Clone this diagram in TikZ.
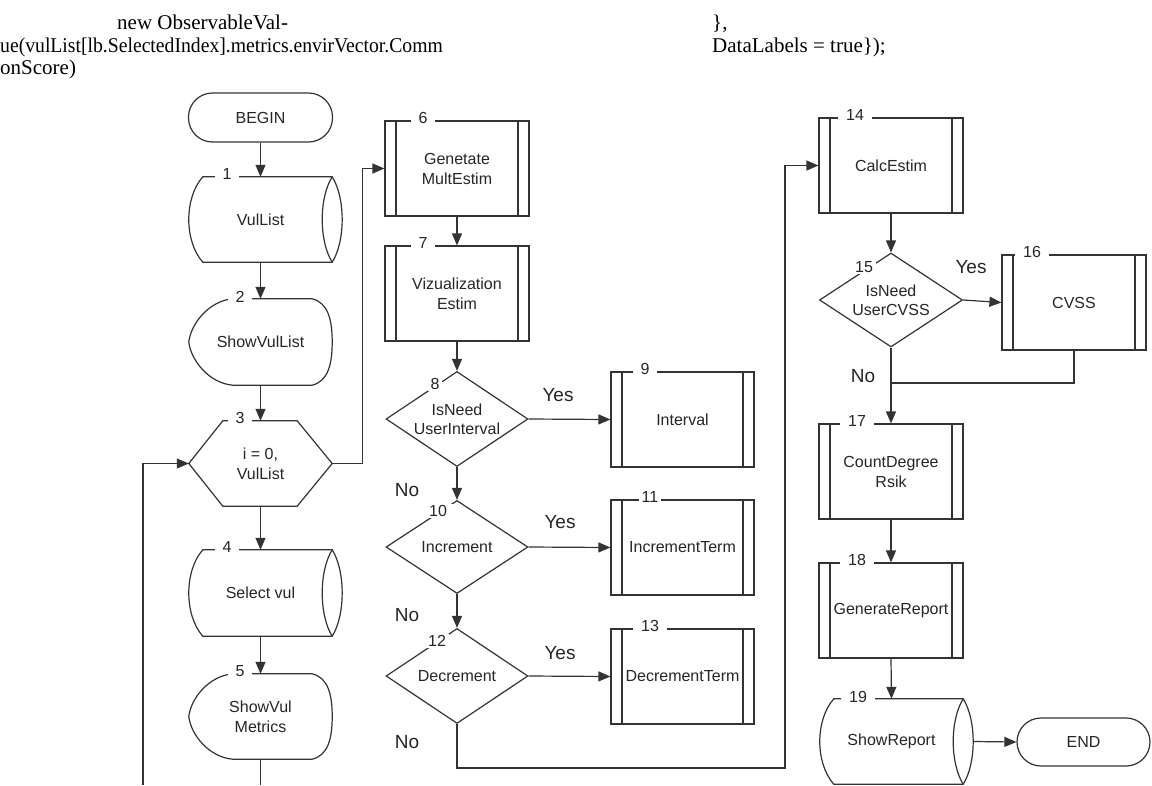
\documentclass[tikz,border=0pt]{standalone}
\usepackage{fontspec}
\setmainfont{Liberation Serif}
\newfontfamily\arialf{Liberation Sans}
\usetikzlibrary{arrows.meta,shapes.geometric,calc}

\newcommand\storedshape[1]{%
  \draw[ln] ($(#1.north west)+(14,0)$) -- (#1.north east)
    .. controls ($(#1.north east)+(13.3,21)$) and ($(#1.south east)+(13.3,-21)$) .. (#1.south east)
    -- ($(#1.south west)+(14,0)$)
    .. controls ($(#1.south west)+(-4.7,-21)$) and ($(#1.north west)+(-4.7,21)$) .. cycle;
  \draw[ln] (#1.north east)
    .. controls ($(#1.north east)+(-13.3,21)$) and ($(#1.south east)+(-13.3,-21)$) .. (#1.south east);}
\newcommand\displayshape[1]{%
  \draw[ln] ($(#1.north west)+(44,0)$) -- ($(#1.north east)+(-20,0)$)
    .. controls ($(#1.north east)+(-4,4)$) and ($(#1.east)+(0,-22)$) .. (#1.east)
    .. controls ($(#1.east)+(0,22)$) and ($(#1.south east)+(-4,-4)$) .. ($(#1.south east)+(-20,0)$)
    -- ($(#1.south west)+(44,0)$)
    .. controls ($(#1.south west)+(20,-2)$) and ($(#1.west)+(2,18)$) .. (#1.west)
    .. controls ($(#1.west)+(2,-18)$) and ($(#1.north west)+(20,2)$) .. cycle;}
\newcommand\hexshape[1]{%
  \draw[ln] ($(#1.north west)+(34,0)$) -- ($(#1.north east)+(-35,0)$) -- (#1.east)
    -- ($(#1.south east)+(-35,0)$) -- ($(#1.south west)+(34,0)$) -- (#1.west) -- cycle;}

\tikzset{
 ln/.style={line width=1.2pt, draw=black!80},
 arr/.style={ln, -{Triangle[length=12pt,width=10pt]}},
 body/.style={draw=none, minimum width=143pt, minimum height=85pt, inner sep=0pt,
   font=\arialf\fontsize{16}{20}\selectfont, align=center, text=black!85},
 proc/.style={body, ln, minimum width=144pt, minimum height=95pt,
   path picture={\draw[ln] ([xshift=11pt]path picture bounding box.north west) -- ([xshift=11pt]path picture bounding box.south west)
     ([xshift=-11pt]path picture bounding box.north east) -- ([xshift=-11pt]path picture bounding box.south east);}},
 term/.style={body, ln, rounded corners=24pt, minimum width=144pt, minimum height=49pt},
 dec/.style={diamond, ln, minimum width=142pt, minimum height=95pt, inner sep=0pt},
 dtext/.style={font=\arialf\fontsize{16}{19}\selectfont, align=center, inner sep=0pt, text=black!85},
 num/.style={fill=white, inner xsep=8pt, inner ysep=1pt, font=\arialf\fontsize{16}{16}\selectfont, text=black!85},
 dnum/.style={num, inner xsep=3pt},
 yn/.style={font=\arialf\fontsize{19}{19}\selectfont, text=black!85, inner sep=0pt},
 toptext/.style={font=\fontsize{21}{24}\selectfont, anchor=base west, inner sep=0pt, text=black},
}

\begin{document}
\begin{tikzpicture}[x=1pt,y=-1pt]
\useasboundingbox[fill=white] (0,0) rectangle (1152,785);

% top text
\node[toptext] (t1) at (117,29) {new ObservableVal-};
\node[toptext] (t2) at (0,52) {\scalebox{0.937}[1]{ue(vulList[lb.SelectedIndex].metrics.envirVector.Comm}};
\node[toptext] (t3) at (0,74) {onScore)};
\node[toptext] (t4) at (712,29) {\},};
\node[toptext] (t5) at (712,52) {DataLabels = true\});};

% column 1
\node[term] (begin) at (260.5,117.5) {BEGIN};
\node[body] (n1) at (260.5,219.5) {VulList};
\node[body,minimum height=86pt] (n2) at (260.5,342) {ShowVulList};
\node[body] (n3) at (260.5,463.5) {i = 0,\\VulList};
\node[body,minimum height=86pt] (n4) at (260.5,593) {Select vul};
\node[body] (n5) at (260.5,716.5) {ShowVul\\Metrics};
\storedshape{n1}
\displayshape{n2}
\hexshape{n3}
\storedshape{n4}
\displayshape{n5}

% column 2
\node[proc] (n6) at (457,168.5) {Genetate\\MultEstim};
\node[proc] (n7) at (457,293.5) {Vizualization\\Estim};
\node[dec] (d8) at (457,419) {};
\node[dtext] (t8) at (d8) {IsNeed\\UserInterval};
\node[proc,minimum width=143pt] (n9) at (682.5,419.5) {Interval};
\node[dec,minimum height=93pt] (d10) at (457,547) {};
\node[dtext] (t10) at (d10) {Increment};
\node[proc,minimum width=143pt] (n11) at (682.5,547.5) {IncrementTerm};
\node[dec] (d12) at (457,676) {};
\node[dtext] (t12) at (d12) {Decrement};
\node[proc,minimum width=143pt] (n13) at (682.5,676.5) {DecrementTerm};

% column 3
\node[proc] (n14) at (891,165.5) {CalcEstim};
\node[dec,minimum width=143pt,minimum height=94pt] (d15) at (891,300) {};
\node[dtext] (t15) at (d15) {IsNeed\\UserCVSS};
\node[proc] (n16) at (1074,302.5) {CVSS};
\node[proc] (n17) at (891,471.5) {CountDegree\\Rsik};
\node[proc] (n18) at (891,610.5) {GenerateReport};
\node[body] (n19) at (891.5,741.5) {ShowReport};
\storedshape{n19}
\node[term,minimum width=133pt,minimum height=48pt] (end) at (1083.5,742) {END};

% number labels
\node[num] (l1) at (227,174) {1};
\node[num] (l2) at (240,297) {2};
\node[num] (l3) at (240,418) {3};
\node[num] (l4) at (227,547) {4};
\node[num] (l5) at (240,671) {5};
\node[num] (l6) at (423,118) {6};
\node[num] (l7) at (423,243) {7};
\node[dnum] (l8) at (435,384) {8};
\node[num] (l9) at (645,369) {9};
\node[num] (l10) at (438,511) {10};
\node[dnum] (l11) at (650,497) {11};
\node[dnum] (l12) at (437,641) {12};
\node[num] (l13) at (650,626) {13};
\node[num] (l14) at (855,115) {14};
\node[dnum] (l15) at (864,267) {15};
\node[num] (l16) at (1032,252) {16};
\node[num] (l17) at (857,421) {17};
\node[num] (l18) at (857,560) {18};
\node[num] (l19) at (858,697) {19};

% yes / no
\node[yn] (y8) at (558,395) {Yes};
\node[yn] (y10) at (560,522) {Yes};
\node[yn] (y12) at (560,653) {Yes};
\node[yn] (y15) at (971,267) {Yes};
\node[yn] (no8) at (407,490) {No};
\node[yn] (no10) at (407,615) {No};
\node[yn] (no12) at (407,742) {No};
\node[yn] (no15) at (863,376) {No};

% connectors
\coordinate (lb) at (143,785);
\coordinate (n5b) at (260.5,785);
\coordinate (j1) at (785,768);
\coordinate (j2) at (891,383);
\coordinate (n19r) at ($(n19.east)+(10,0)$);

\draw[arr] (begin.south) -- (n1.north);
\draw[arr] (n1.south) -- (n2.north);
\draw[arr] (n2.south) -- (n3.north);
\draw[arr] (n3.south) -- (n4.north);
\draw[arr] (n4.south) -- (n5.north);
\draw[ln] (n5.south) -- (n5b);
\draw[arr] (lb) |- (n3.west);
\draw[arr] (n3.east) -- ++(30,0) |- (n6.west);
\draw[arr] (n6.south) -- (n7.north);
\draw[arr] (n7.south) -- (d8.north);
\draw[arr] (d8.east) -- (n9.west);
\draw[arr] (d8.south) -- (d10.north);
\draw[arr] (d10.east) -- (n11.west);
\draw[arr] (d10.south) -- (d12.north);
\draw[arr] (d12.east) -- (n13.west);
\draw[arr] (d12.south) |- (j1) |- (n14.west);
\draw[arr] (n14.south) -- (d15.north);
\draw[arr] (d15.east) -- (n16.west);
\draw[ln] (n16.south) |- (j2);
\draw[arr] (d15.south) -- (n17.north);
\draw[arr] (n17.south) -- (n18.north);
\draw[arr] (n18.south) -- (n19.north);
\draw[arr] (n19r) -- (end.west);
\end{tikzpicture}
\end{document}
